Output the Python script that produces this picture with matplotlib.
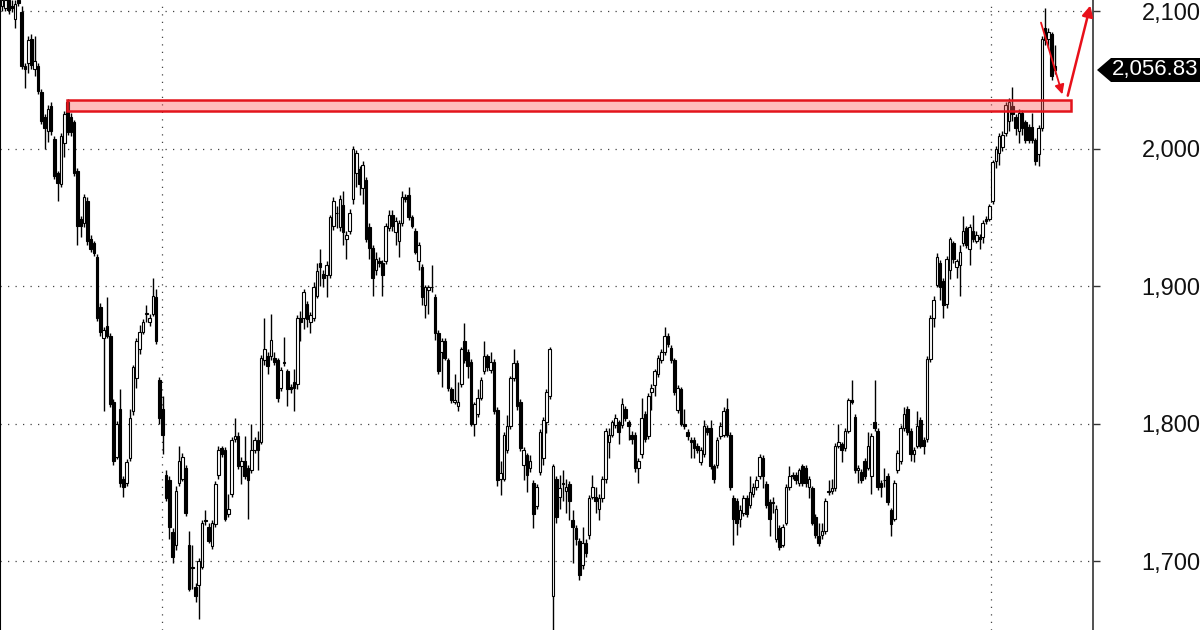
import matplotlib
matplotlib.use("Agg")
import matplotlib.pyplot as plt
from matplotlib.patches import Rectangle, Polygon

plt.rcParams['font.family'] = ['Liberation Sans', 'DejaVu Sans']

# daily candles (open / high / low / close)
opens = [
    2104, 2102, 2108, 2104, 2094, 2108, 2099, 2060, 2062, 2080,
    2058, 2060, 2041, 2023, 2013, 2031, 2007, 1982, 1974, 2004,
    2034, 2023, 2019, 1984, 1949, 1946, 1962, 1934, 1931, 1921,
    1885, 1862, 1871, 1864, 1816, 1776, 1811, 1760, 1757, 1775,
    1809, 1833, 1854, 1867, 1880, 1874, 1880, 1892, 1832, 1811,
    1763, 1759, 1721, 1712, 1757, 1760, 1768, 1712, 1696, 1681,
    1683, 1696, 1730, 1725, 1711, 1727, 1763, 1782, 1781, 1734,
    1749, 1789, 1791, 1769, 1773, 1768, 1766, 1781, 1788, 1787,
    1846, 1849, 1849, 1848, 1846, 1826, 1845, 1838, 1827, 1830,
    1829, 1877, 1877, 1887, 1874, 1877, 1893, 1917, 1909, 1908,
    1908, 1944, 1953, 1943, 1959, 1934, 1940, 1963, 1982, 1985,
    1971, 1977, 1943, 1928, 1912, 1918, 1917, 1918, 1942, 1952,
    1939, 1933, 1946, 1965, 1966, 1950, 1940, 1918, 1914, 1886,
    1897, 1899, 1892, 1866, 1852, 1860, 1846, 1825, 1816, 1813,
    1829, 1860, 1852, 1845, 1800, 1807, 1819, 1838, 1849, 1839,
    1845, 1810, 1760, 1760, 1781, 1798, 1833, 1844, 1816, 1770,
    1777, 1768, 1757, 1740, 1765, 1775, 1801, 1820, 1675, 1760,
    1747, 1757, 1751, 1756, 1730, 1724, 1715, 1697, 1713, 1719,
    1747, 1747, 1738, 1746, 1760, 1787, 1792, 1799, 1801, 1799,
    1811, 1801, 1792, 1792, 1768, 1778, 1807, 1791, 1823, 1828,
    1836, 1846, 1852, 1864, 1855, 1846, 1810, 1825, 1800, 1794,
    1788, 1788, 1784, 1772, 1778, 1797, 1797, 1769, 1770, 1791,
    1792, 1811, 1792, 1746, 1744, 1731, 1735, 1746, 1741, 1749,
    1754, 1762, 1775, 1756, 1743, 1743, 1716, 1724, 1712, 1728,
    1754, 1763, 1763, 1757, 1769, 1768, 1754, 1753, 1732, 1718,
    1719, 1722, 1751, 1751, 1753, 1784, 1785, 1782, 1795, 1817,
    1805, 1766, 1765, 1773, 1768, 1762, 1801, 1795, 1757, 1759,
    1762, 1737, 1731, 1766, 1773, 1797, 1811, 1795, 1778, 1784,
    1803, 1788, 1789, 1847, 1877, 1901, 1917, 1904, 1887, 1912,
    1931, 1914, 1915, 1931, 1942, 1927, 1940, 1933, 1936, 1936,
    1949, 1949, 1962, 1991, 1997, 2001, 2011, 2020, 2031, 2023,
    2013, 2026, 2019, 2016, 2016, 2006, 1996, 2015, 2088, 2080,
    2083, 2060,
]
highs = [
    2110, 2110, 2110, 2108, 2108, 2110, 2104, 2062, 2082, 2083,
    2082, 2062, 2043, 2025, 2032, 2034, 2009, 1984, 2011, 2027,
    2036, 2026, 2021, 1986, 1951, 1967, 1965, 1937, 1933, 1923,
    1888, 1870, 1892, 1866, 1818, 1802, 1825, 1762, 1774, 1811,
    1843, 1862, 1872, 1876, 1886, 1880, 1906, 1898, 1834, 1820,
    1766, 1762, 1724, 1755, 1784, 1779, 1770, 1722, 1712, 1684,
    1702, 1730, 1737, 1728, 1730, 1758, 1784, 1784, 1783, 1749,
    1790, 1804, 1794, 1776, 1791, 1770, 1800, 1790, 1795, 1850,
    1877, 1852, 1880, 1852, 1848, 1841, 1863, 1840, 1829, 1840,
    1879, 1882, 1898, 1889, 1881, 1903, 1917, 1927, 1912, 1918,
    1952, 1965, 1958, 1966, 1969, 1940, 1956, 2002, 1999, 1987,
    1991, 1979, 1946, 1930, 1925, 1921, 1919, 1946, 1955, 1955,
    1950, 1948, 1969, 1967, 1972, 1952, 1942, 1932, 1916, 1901,
    1901, 1915, 1894, 1868, 1862, 1862, 1848, 1827, 1836, 1830,
    1856, 1873, 1854, 1847, 1816, 1825, 1834, 1860, 1851, 1852,
    1847, 1812, 1773, 1794, 1806, 1835, 1854, 1846, 1818, 1783,
    1779, 1777, 1759, 1756, 1796, 1805, 1825, 1856, 1771, 1762,
    1763, 1766, 1760, 1758, 1737, 1726, 1717, 1725, 1716, 1748,
    1763, 1754, 1749, 1762, 1797, 1797, 1803, 1807, 1803, 1819,
    1813, 1803, 1795, 1794, 1775, 1819, 1809, 1822, 1829, 1840,
    1850, 1854, 1870, 1866, 1857, 1848, 1828, 1827, 1811, 1796,
    1790, 1790, 1786, 1783, 1803, 1799, 1803, 1771, 1790, 1801,
    1812, 1819, 1794, 1748, 1746, 1741, 1748, 1748, 1762, 1757,
    1762, 1778, 1777, 1758, 1745, 1747, 1741, 1726, 1727, 1756,
    1769, 1765, 1765, 1768, 1771, 1770, 1762, 1755, 1734, 1728,
    1728, 1746, 1759, 1760, 1786, 1800, 1787, 1797, 1819, 1832,
    1807, 1770, 1767, 1775, 1794, 1793, 1832, 1797, 1759, 1768,
    1764, 1739, 1759, 1781, 1799, 1812, 1813, 1797, 1783, 1809,
    1805, 1790, 1849, 1879, 1893, 1924, 1919, 1906, 1922, 1936,
    1933, 1920, 1930, 1951, 1944, 1945, 1952, 1940, 1938, 1948,
    1951, 1960, 1992, 2002, 2011, 2013, 2034, 2037, 2045, 2025,
    2029, 2028, 2021, 2018, 2026, 2008, 2017, 2082, 2102, 2088,
    2085, 2075,
]
lows = [
    2100, 2100, 2098, 2099, 2088, 2104, 2058, 2044, 2055, 2058,
    2053, 2040, 2018, 2000, 2005, 2010, 1978, 1962, 1972, 1994,
    2010, 2009, 1980, 1930, 1936, 1943, 1930, 1925, 1922, 1875,
    1864, 1809, 1862, 1812, 1770, 1774, 1754, 1747, 1755, 1773,
    1806, 1826, 1851, 1865, 1874, 1871, 1878, 1858, 1800, 1778,
    1744, 1716, 1699, 1708, 1755, 1758, 1733, 1678, 1680, 1670,
    1658, 1694, 1726, 1713, 1709, 1725, 1760, 1776, 1729, 1732,
    1747, 1787, 1767, 1756, 1760, 1731, 1764, 1779, 1766, 1785,
    1843, 1836, 1846, 1843, 1816, 1824, 1842, 1813, 1822, 1809,
    1825, 1860, 1869, 1870, 1866, 1875, 1891, 1900, 1899, 1892,
    1906, 1941, 1942, 1940, 1930, 1920, 1938, 1960, 1972, 1966,
    1960, 1932, 1920, 1893, 1908, 1914, 1893, 1916, 1940, 1940,
    1930, 1921, 1944, 1961, 1948, 1942, 1923, 1912, 1886, 1877,
    1880, 1896, 1861, 1836, 1827, 1846, 1824, 1815, 1814, 1809,
    1827, 1844, 1833, 1798, 1791, 1805, 1817, 1836, 1838, 1837,
    1807, 1755, 1748, 1758, 1779, 1796, 1831, 1810, 1780, 1759,
    1750, 1765, 1724, 1738, 1763, 1770, 1793, 1818, 1650, 1728,
    1738, 1744, 1735, 1730, 1699, 1712, 1686, 1694, 1703, 1716,
    1745, 1735, 1730, 1743, 1757, 1775, 1790, 1797, 1785, 1797,
    1802, 1788, 1785, 1765, 1757, 1775, 1787, 1789, 1810, 1820,
    1834, 1844, 1850, 1856, 1844, 1821, 1808, 1798, 1796, 1788,
    1775, 1775, 1779, 1770, 1776, 1792, 1767, 1757, 1768, 1789,
    1790, 1790, 1752, 1712, 1719, 1725, 1733, 1732, 1739, 1747,
    1752, 1760, 1753, 1739, 1718, 1735, 1714, 1708, 1710, 1726,
    1752, 1760, 1756, 1755, 1755, 1754, 1746, 1726, 1717, 1711,
    1716, 1720, 1748, 1749, 1751, 1782, 1772, 1780, 1793, 1814,
    1764, 1757, 1757, 1760, 1766, 1749, 1795, 1752, 1747, 1754,
    1741, 1718, 1729, 1764, 1771, 1795, 1792, 1773, 1772, 1782,
    1782, 1778, 1787, 1845, 1870, 1899, 1890, 1877, 1884, 1905,
    1917, 1906, 1893, 1929, 1928, 1915, 1932, 1931, 1927, 1931,
    1945, 1947, 1960, 1986, 1988, 1998, 2009, 2013, 2020, 2010,
    2004, 2010, 2004, 2004, 2004, 1988, 1987, 2013, 2075, 2073,
    2050, 2054,
]
closes = [
    2108, 2108, 2101, 2102, 2105, 2106, 2060, 2058, 2079, 2061,
    2064, 2042, 2020, 2015, 2029, 2013, 1980, 1975, 2009, 2025,
    2012, 2012, 1982, 1944, 1944, 1965, 1933, 1927, 1924, 1877,
    1867, 1868, 1864, 1814, 1773, 1800, 1757, 1754, 1772, 1804,
    1841, 1860, 1867, 1874, 1880, 1877, 1893, 1860, 1804, 1792,
    1746, 1725, 1703, 1751, 1773, 1776, 1735, 1680, 1695, 1675,
    1700, 1728, 1729, 1715, 1728, 1756, 1781, 1778, 1731, 1738,
    1788, 1791, 1769, 1773, 1762, 1759, 1781, 1788, 1781, 1848,
    1854, 1842, 1861, 1845, 1819, 1839, 1844, 1825, 1825, 1826,
    1877, 1874, 1896, 1876, 1879, 1899, 1911, 1914, 1906, 1915,
    1950, 1962, 1953, 1963, 1939, 1937, 1953, 2000, 1997, 1974,
    1988, 1934, 1928, 1906, 1920, 1917, 1908, 1944, 1952, 1944,
    1947, 1946, 1965, 1963, 1950, 1944, 1925, 1930, 1892, 1899,
    1899, 1899, 1866, 1838, 1860, 1848, 1826, 1817, 1817, 1816,
    1854, 1846, 1842, 1800, 1814, 1819, 1832, 1849, 1841, 1845,
    1809, 1759, 1764, 1792, 1798, 1833, 1844, 1813, 1782, 1781,
    1763, 1773, 1734, 1754, 1794, 1803, 1823, 1854, 1769, 1732,
    1753, 1756, 1754, 1744, 1725, 1716, 1690, 1713, 1706, 1746,
    1754, 1744, 1746, 1760, 1795, 1792, 1801, 1804, 1794, 1814,
    1804, 1798, 1789, 1768, 1773, 1804, 1789, 1820, 1826, 1838,
    1848, 1852, 1864, 1858, 1846, 1823, 1826, 1800, 1798, 1791,
    1787, 1782, 1781, 1781, 1798, 1794, 1769, 1760, 1788, 1798,
    1809, 1792, 1754, 1731, 1728, 1737, 1746, 1734, 1750, 1754,
    1759, 1776, 1762, 1741, 1731, 1742, 1738, 1710, 1725, 1754,
    1762, 1762, 1759, 1766, 1757, 1757, 1760, 1728, 1719, 1713,
    1722, 1744, 1750, 1753, 1784, 1787, 1781, 1795, 1817, 1816,
    1766, 1768, 1759, 1762, 1784, 1791, 1797, 1754, 1754, 1759,
    1743, 1727, 1757, 1779, 1797, 1807, 1794, 1778, 1781, 1798,
    1784, 1784, 1847, 1877, 1890, 1921, 1899, 1886, 1920, 1934,
    1920, 1918, 1925, 1940, 1930, 1943, 1934, 1937, 1934, 1946,
    1947, 1958, 1990, 2000, 2009, 2010, 2032, 2034, 2025, 2015,
    2026, 2015, 2006, 2006, 2006, 1991, 2015, 2080, 2079, 2085,
    2053, 2056.83,
]

last_price = "2,056.83"
price_ticks = [1700, 1800, 1900, 2000, 2100]
zone_low, zone_high = 2027, 2035
zone_start, zone_end = 19.8, 325.9
date_lines = [48.8, 301.5]

W, H = 1200, 630
fig = plt.figure(figsize=(W / 100, H / 100), dpi=100)
ax = fig.add_axes([0, 0, 1093 / W, 1])

x = list(range(len(closes)))
ax.vlines(x, lows, highs, color='black', lw=1.0, zorder=2)
for i in x:
    o, c = opens[i], closes[i]
    up = c >= o
    body = max(abs(c - o), 0.3)
    ax.bar(i, body, bottom=min(o, c), width=0.8,
           color='white' if up else 'black', edgecolor='black',
           linewidth=0.8, zorder=3)

# support / resistance zone
ax.add_patch(Rectangle((zone_start, zone_low), zone_end - zone_start,
                       zone_high - zone_low, facecolor=(1, 0.35, 0.35, 0.4),
                       edgecolor='#e3141c', lw=1.8, zorder=4))

# projected path arrows
ax.annotate('', xy=(323.5, 2037.5), xytext=(316.5, 2093.5),
            arrowprops=dict(arrowstyle='-|>', color='#e8101a', lw=1.3,
                            mutation_scale=14), zorder=5, annotation_clip=False)
ax.annotate('', xy=(332.0, 2106), xytext=(324.7, 2036.5),
            arrowprops=dict(arrowstyle='-|>', color='#e8101a', lw=1.8,
                            mutation_scale=16), zorder=5, annotation_clip=False)

ax.set_xlim(-0.6, 332.6)
ax.set_ylim(1650, 2108)

ax.set_xticks(date_lines)
ax.set_xticklabels([])
ax.tick_params(axis='x', length=0)
ax.yaxis.tick_right()
ax.set_yticks(price_ticks)
ax.set_yticklabels([f"{v:,}" for v in price_ticks])
ax.tick_params(axis='y', direction='out', length=5, width=1, color='#333',
               labelsize=17, labelcolor='#111', pad=30)
ax.grid(True, linestyle=(0, (1, 5)), color='#444', lw=0.9)
ax.set_axisbelow(True)

for s in ['top', 'bottom']:
    ax.spines[s].set_visible(False)
ax.spines['right'].set_color('#333')
ax.spines['right'].set_linewidth(1.2)
ax.spines['left'].set_color('black')
ax.spines['left'].set_linewidth(1.5)

# last price tag
ty = 1 - 70 / H
tag = Polygon([(1097 / W, ty), (1111 / W, 1 - 58 / H), (1.0, 1 - 58 / H),
               (1.0, 1 - 82 / H), (1111 / W, 1 - 82 / H)], closed=True,
              transform=fig.transFigure, facecolor='black', edgecolor='none')
fig.patches.append(tag)
fig.text(1112 / W, ty, last_price, color='white', fontsize=16, va='center',
         ha='left')

fig.savefig('out.png', dpi=100)
